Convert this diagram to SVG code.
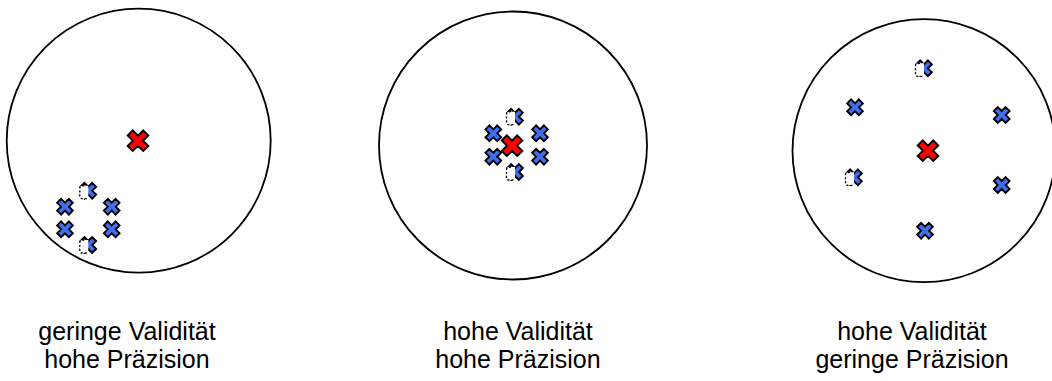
<svg xmlns="http://www.w3.org/2000/svg" xmlns:xlink="http://www.w3.org/1999/xlink" width="1052" height="381" viewBox="0 0 1052 381">
<style>
.ring{fill:none;stroke:#000;stroke-width:1.8}
.blue{fill:#3f6fef;stroke:#000;stroke-width:1.9}
.red{fill:#ff0000;stroke:#000;stroke-width:1.9}
.lbl{font-family:"Liberation Sans",Arial,sans-serif;font-size:25px;fill:#000;text-anchor:middle}
.cov{fill:#fff;stroke:none}
.covline{fill:none;stroke:#000;stroke-width:1.3;stroke-dasharray:2 2}
</style>
<defs>
<path id="bx" class="blue" transform="rotate(45)" d="M-2.8,-8.3 H2.8 V-2.8 H8.3 V2.8 H2.8 V8.3 H-2.8 V2.8 H-8.3 V-2.8 H-2.8 Z"/>
<path id="rx" class="red" transform="rotate(45)" d="M-3.6,-11 H3.6 V-3.6 H11 V3.6 H3.6 V11 H-3.6 V3.6 H-11 V-3.6 H-3.6 Z"/>
<g id="bxc">
<use xlink:href="#bx"/>
<path class="cov" d="M0,-5 H-6 Q-8.5,-5 -8.5,-2.5 V5.5 Q-8.5,8 -6,8 H0 Z"/>
<path class="covline" d="M-4,-5 Q-8.5,-5 -8.5,-2.5 V5.5 Q-8.5,8 -6,8 H-1"/>
</g>
</defs>
<g id="target1">
<circle class="ring" cx="138.7" cy="140.7" r="132"/>
<use xlink:href="#bx" x="65" y="206.7"/>
<use xlink:href="#bx" x="65" y="229.3"/>
<use xlink:href="#bx" x="111.7" y="206.7"/>
<use xlink:href="#bx" x="111.7" y="229.3"/>
<use xlink:href="#bxc" x="88.3" y="190.7"/>
<use xlink:href="#bxc" x="88.3" y="245"/>
<use xlink:href="#rx" x="138" y="140.7"/>
<text class="lbl" x="127" y="340">geringe Validität</text>
<text class="lbl" x="127" y="368">hohe Präzision</text>
</g>
<g id="target2">
<circle class="ring" cx="513" cy="145.5" r="134"/>
<use xlink:href="#bx" x="493.3" y="133.3"/>
<use xlink:href="#bx" x="493.3" y="156.7"/>
<use xlink:href="#bx" x="540" y="133.3"/>
<use xlink:href="#bx" x="540" y="156.7"/>
<use xlink:href="#bxc" x="515" y="116.7"/>
<use xlink:href="#bxc" x="515" y="172"/>
<use xlink:href="#rx" x="512" y="145.7"/>
<text class="lbl" x="518" y="340">hohe Validität</text>
<text class="lbl" x="518" y="368">hohe Präzision</text>
</g>
<g id="target3">
<circle class="ring" cx="924" cy="150.7" r="131.5"/>
<use xlink:href="#bx" x="855" y="107.3"/>
<use xlink:href="#bx" x="1001.7" y="115"/>
<use xlink:href="#bx" x="1001.7" y="185"/>
<use xlink:href="#bx" x="925" y="230.7"/>
<use xlink:href="#bxc" x="924" y="68.3"/>
<use xlink:href="#bxc" x="854" y="177.3"/>
<use xlink:href="#rx" x="928" y="150.7"/>
<text class="lbl" x="912" y="340">hohe Validität</text>
<text class="lbl" x="912" y="368">geringe Präzision</text>
</g>
<g id="connectors"/>
</svg>
